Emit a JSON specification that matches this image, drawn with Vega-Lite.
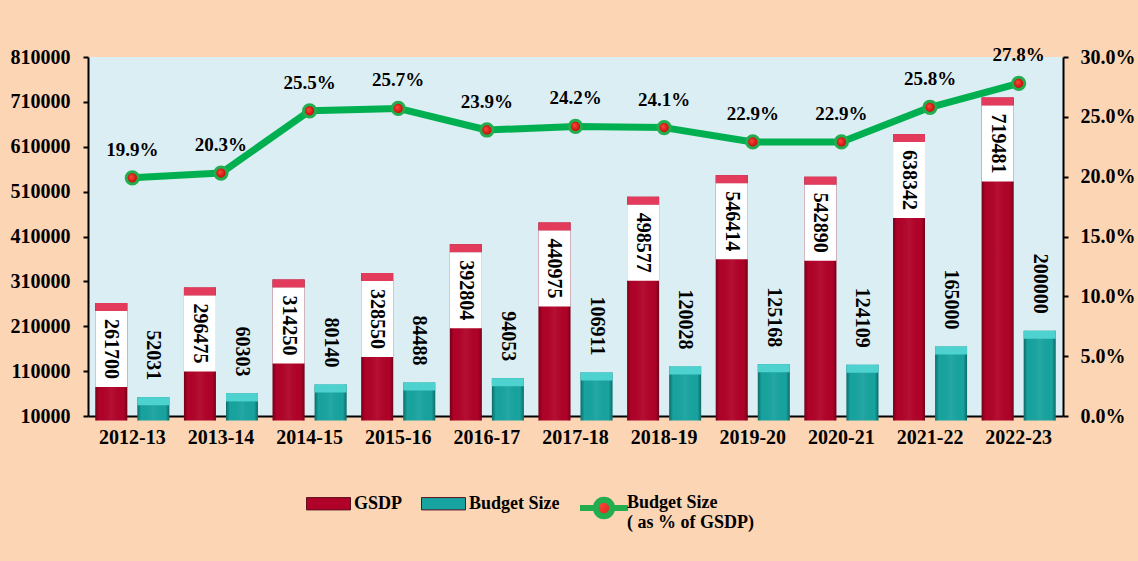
{
  "$schema": "https://vega.github.io/schema/vega-lite/v6.json",
  "width": 975,
  "height": 359,
  "autosize": {"type": "none"},
  "padding": {"left": 88, "top": 57, "right": 75, "bottom": 145},
  "background": "#FCD5B5",
  "config": {
    "view": {"fill": "#DBEEF4", "stroke": null},
    "font": "Liberation Serif",
    "axis": {
      "labelFont": "Liberation Serif",
      "labelFontWeight": "bold",
      "labelFontSize": 20,
      "labelColor": "#000000",
      "domainColor": "#000000",
      "domainWidth": 2,
      "tickColor": "#000000",
      "tickWidth": 2,
      "grid": false,
      "title": null
    },
    "legend": {
      "labelFont": "Liberation Serif",
      "labelFontWeight": "bold",
      "labelFontSize": 18,
      "labelColor": "#000000",
      "labelLimit": 0,
      "padding": 0,
      "titlePadding": 0
    }
  },
  "datasets": {
    "bars": [
      {"year": "2012-13", "series": "GSDP", "value": 261700},
      {"year": "2012-13", "series": "Budget Size", "value": 52031},
      {"year": "2013-14", "series": "GSDP", "value": 296475},
      {"year": "2013-14", "series": "Budget Size", "value": 60303},
      {"year": "2014-15", "series": "GSDP", "value": 314250},
      {"year": "2014-15", "series": "Budget Size", "value": 80140},
      {"year": "2015-16", "series": "GSDP", "value": 328550},
      {"year": "2015-16", "series": "Budget Size", "value": 84488},
      {"year": "2016-17", "series": "GSDP", "value": 392804},
      {"year": "2016-17", "series": "Budget Size", "value": 94053},
      {"year": "2017-18", "series": "GSDP", "value": 440975},
      {"year": "2017-18", "series": "Budget Size", "value": 106911},
      {"year": "2018-19", "series": "GSDP", "value": 498577},
      {"year": "2018-19", "series": "Budget Size", "value": 120028},
      {"year": "2019-20", "series": "GSDP", "value": 546414},
      {"year": "2019-20", "series": "Budget Size", "value": 125168},
      {"year": "2020-21", "series": "GSDP", "value": 542890},
      {"year": "2020-21", "series": "Budget Size", "value": 124109},
      {"year": "2021-22", "series": "GSDP", "value": 638342},
      {"year": "2021-22", "series": "Budget Size", "value": 165000},
      {"year": "2022-23", "series": "GSDP", "value": 719481},
      {"year": "2022-23", "series": "Budget Size", "value": 200000}
    ],
    "pct": [
      {"year": "2012-13", "pct": 0.199},
      {"year": "2013-14", "pct": 0.203},
      {"year": "2014-15", "pct": 0.255},
      {"year": "2015-16", "pct": 0.257},
      {"year": "2016-17", "pct": 0.239},
      {"year": "2017-18", "pct": 0.242},
      {"year": "2018-19", "pct": 0.241},
      {"year": "2019-20", "pct": 0.229},
      {"year": "2020-21", "pct": 0.229},
      {"year": "2021-22", "pct": 0.258},
      {"year": "2022-23", "pct": 0.278}
    ]
  },
  "encoding": {
    "x": {
      "field": "year",
      "type": "nominal",
      "scale": {"paddingInner": 0.165, "paddingOuter": 0.0825},
      "axis": {"labelAngle": 0, "ticks": false, "labelPadding": 11, "title": null}
    }
  },
  "layer": [
    {
      "data": {"name": "bars"},
      "encoding": {
        "xOffset": {
          "field": "series",
          "type": "nominal",
          "scale": {"domain": ["GSDP", "Budget Size"], "paddingInner": 0.24, "paddingOuter": 0}
        },
        "y": {
          "field": "value",
          "type": "quantitative",
          "scale": {"domain": [10000, 810000], "zero": false, "nice": false},
          "axis": {
            "orient": "left",
            "values": [10000, 110000, 210000, 310000, 410000, 510000, 610000, 710000, 810000],
            "format": "d",
            "tickSize": 5,
            "labelPadding": 13
          }
        }
      },
      "layer": [
        {
          "mark": {"type": "bar"},
          "encoding": {
            "color": {
              "field": "series",
              "type": "nominal",
              "scale": {
                "domain": ["GSDP", "Budget Size"],
                "range": ["#B00228", "#17A39F"]
              },
              "legend": {
                "orient": "none",
                "legendX": 218,
                "legendY": 424,
                "direction": "horizontal",
                "title": null,
                "symbolType": "M-1,-0.28H1V0.28H-1Z",
                "symbolSize": 1936,
                "symbolStrokeColor": "#5E1020",
                "symbolStrokeWidth": 1,
                "symbolOffset": 0,
                "labelOffset": 3,
                "columnPadding": 16,
                "labelBaseline": "middle"
              }
            }
          }
        },
        {
          "mark": {
            "type": "bar",
            "fill": {
              "gradient": "linear",
              "x1": 0, "x2": 1, "y1": 0, "y2": 0,
              "stops": [
                {"offset": 0, "color": "rgba(0,0,0,0.35)"},
                {"offset": 0.12, "color": "rgba(0,0,0,0)"},
                {"offset": 0.5, "color": "rgba(255,255,255,0.06)"},
                {"offset": 0.88, "color": "rgba(0,0,0,0)"},
                {"offset": 1, "color": "rgba(0,0,0,0.35)"}
              ]
            }
          }
        },
        {
          "mark": {"type": "bar", "y2Offset": 8},
          "encoding": {
            "y2": {"field": "value"},
            "fill": {
              "field": "series",
              "type": "nominal",
              "scale": {"domain": ["GSDP", "Budget Size"], "range": ["#E23B5C", "#4ED2CF"]},
              "legend": null
            }
          }
        },
        {
          "transform": [{"filter": "datum.series == 'GSDP'"}],
          "mark": {"type": "bar", "color": "#FFFFFF", "yOffset": 8, "y2Offset": 84},
          "encoding": {
            "y2": {"field": "value"}
          }
        },
        {
          "transform": [{"filter": "datum.series == 'GSDP'"}],
          "mark": {
            "type": "text",
            "angle": 90,
            "align": "left",
            "baseline": "middle",
            "dx": 16,
            "font": "Liberation Serif",
            "fontWeight": "bold",
            "fontSize": 20,
            "color": "#000000"
          },
          "encoding": {
            "text": {"field": "value", "type": "quantitative", "format": "d"}
          }
        },
        {
          "transform": [{"filter": "datum.series == 'Budget Size'"}],
          "mark": {
            "type": "text",
            "angle": 90,
            "align": "right",
            "baseline": "middle",
            "dx": -17,
            "font": "Liberation Serif",
            "fontWeight": "bold",
            "fontSize": 20,
            "color": "#000000"
          },
          "encoding": {
            "text": {"field": "value", "type": "quantitative", "format": "d"}
          }
        }
      ]
    },
    {
      "data": {"name": "pct"},
      "encoding": {
        "y": {
          "field": "pct",
          "type": "quantitative",
          "scale": {"domain": [0, 0.3], "nice": false},
          "axis": {
            "orient": "right",
            "values": [0, 0.05, 0.1, 0.15, 0.2, 0.25, 0.3],
            "format": ".1%",
            "tickSize": 5,
            "labelPadding": 12
          }
        }
      },
      "layer": [
        {
          "mark": {"type": "line", "color": "#00B050", "strokeWidth": 7, "strokeCap": "round", "strokeJoin": "round"}
        },
        {
          "mark": {
            "type": "point",
            "filled": true,
            "size": 150,
            "opacity": 1,
            "fill": {
              "gradient": "radial",
              "x1": 0.4, "y1": 0.4, "x2": 0.5, "y2": 0.5, "r1": 0, "r2": 0.5,
              "stops": [
                {"offset": 0, "color": "#FF4A3A"},
                {"offset": 1, "color": "#B50000"}
              ]
            },
            "strokeWidth": 3
          },
          "encoding": {
            "stroke": {
              "datum": "Budget Size ( as % of GSDP)",
              "type": "nominal",
              "scale": {"range": ["#23AD4E"]},
              "legend": {
                "orient": "none",
                "legendX": 489,
                "legendY": 424,
                "title": null,
                "symbolType": "M-1,0H-0.34M0.34,0H1M-0.34,0A0.34,0.34 0 1,1 0.34,0A0.34,0.34 0 1,1 -0.34,0Z",
                "symbolSize": 2304,
                "symbolStrokeWidth": 6,
                "symbolOffset": 0,
                "labelOffset": -4,
                "labelBaseline": "alphabetic",
                "labelExpr": "['Budget Size', '( as % of GSDP)']"
              }
            }
          }
        },
        {
          "mark": {
            "type": "text",
            "baseline": "alphabetic",
            "align": "center",
            "dy": -22,
            "font": "Liberation Serif",
            "fontWeight": "bold",
            "fontSize": 19,
            "color": "#000000"
          },
          "encoding": {
            "text": {"field": "pct", "type": "quantitative", "format": ".1%"}
          }
        }
      ]
    }
  ],
  "resolve": {"scale": {"y": "independent"}}
}
